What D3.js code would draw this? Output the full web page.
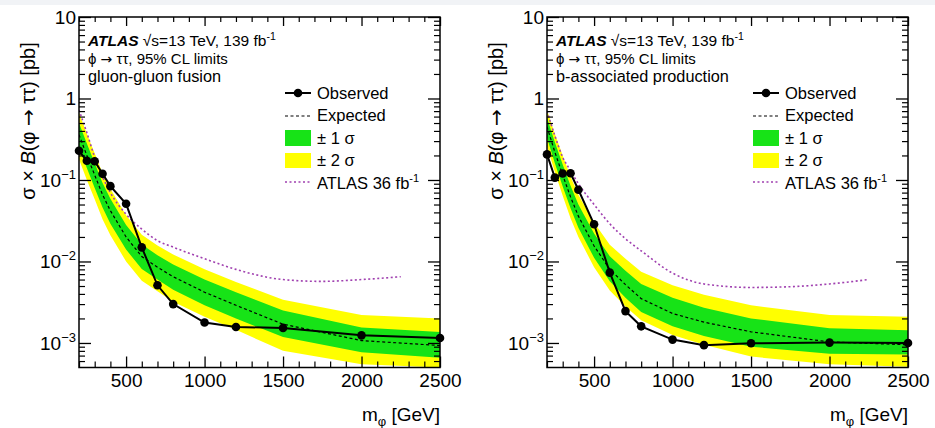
<!DOCTYPE html>
<html><head><meta charset="utf-8">
<script src="https://cdn.jsdelivr.net/npm/d3@7"></script>
<style>
body{margin:0;background:#fff}
svg{display:block}
text{font-family:"Liberation Sans",Arial,Helvetica,sans-serif;fill:#000}
.arr{font-family:"DejaVu Sans",sans-serif}
</style>
</head><body>
<svg id="c" width="935" height="428"></svg>
<script>
// ---------------- data ----------------
const mass = [200,250,300,350,400,500,600,700,800,1000,1200,1500,2000,2500];
const mass36 = [200,250,300,350,400,500,600,700,800,1000,1200,1500,1750,2000,2250];

// gluon-gluon fusion
const ggfObserved = [0.228,0.172,0.170,0.119,0.084,0.051,0.0149,0.0051,0.0030,0.00178,0.00157,0.00153,0.00124,0.00115];
const ggfExpected = [0.36,0.20,0.115,0.066,0.042,0.020,0.0115,0.0085,0.0065,0.0042,0.0029,0.0017,0.00107,0.00093];
const ggfPlus2    = [0.67,0.37,0.213,0.122,0.078,0.037,0.0213,0.0157,0.0122,0.0080,0.0056,0.0034,0.0022,0.0020];
const ggfPlus1    = [0.50,0.28,0.161,0.092,0.059,0.028,0.0161,0.0119,0.0092,0.0060,0.0042,0.0025,0.00155,0.00136];
const ggfMinus1   = [0.25,0.14,0.080,0.046,0.029,0.014,0.0081,0.0060,0.0045,0.0029,0.0020,0.00118,0.00077,0.00066];
const ggfMinus2   = [0.18,0.10,0.058,0.033,0.021,0.010,0.0058,0.0043,0.0032,0.0021,0.00145,0.00080,0.00055,0.00050];
const ggf36       = [0.72,0.38,0.19,0.11,0.070,0.038,0.025,0.018,0.0150,0.0108,0.0080,0.0060,0.0057,0.0060,0.0065];

// b-associated production
const bbhObserved = [0.206,0.107,0.120,0.121,0.076,0.0286,0.0073,0.00246,0.0016,0.0011,0.00094,0.00099,0.00101,0.00100];
const bbhExpected = [0.45,0.22,0.115,0.062,0.036,0.0155,0.0080,0.0052,0.0035,0.0023,0.0018,0.00137,0.00103,0.00095];
const bbhPlus2    = [0.72,0.37,0.20,0.110,0.066,0.030,0.0160,0.0108,0.0075,0.0051,0.0039,0.0029,0.0022,0.0021];
const bbhPlus1    = [0.58,0.29,0.155,0.085,0.050,0.0220,0.0116,0.0077,0.0053,0.0036,0.0027,0.0020,0.00152,0.00143];
const bbhMinus1   = [0.33,0.16,0.083,0.045,0.026,0.0111,0.0057,0.0036,0.0024,0.0016,0.00122,0.00090,0.00074,0.00072];
const bbhMinus2   = [0.26,0.125,0.064,0.034,0.020,0.0085,0.0044,0.0028,0.0019,0.00125,0.00095,0.00068,0.00055,0.00051];
const bbh36       = [0.70,0.35,0.19,0.13,0.090,0.050,0.029,0.019,0.0135,0.0072,0.0053,0.0048,0.0049,0.0053,0.0060];

const xMajor = [500,1000,1500,2000,2500];
const xMinor = d3.range(200,2501,100).filter(v => v % 500 !== 0);
const yMajor = [1e-3,1e-2,1e-1,1,10];
const yExponents = [-3,-2,-1,0,1];
const yMinor = [6e-4,7e-4,8e-4,9e-4].concat(...[-3,-2,-1,0].map(e => d3.range(2,10).map(k => k*Math.pow(10,e))));
const legendLabels = ["Observed","Expected","± 1 σ","± 2 σ","ATLAS 36 fb"];
const processLabels = ["gluon-gluon fusion","b-associated production"];

// ---------------- drawing ----------------
const svg = d3.select("#c");
svg.append("rect").attr("x",0).attr("y",0).attr("width",935).attr("height",5).attr("fill","#f1f3f6");

const GREEN = "#17e317", YELLOW = "#ffff00", PINK = "#a040b0";
const Y0 = 367.5, Y1 = 17;

function drawPanel(p) {
  const g = svg.append("g");
  const x = d3.scaleLinear().domain([200,2500]).range([p.x0,p.x1]);
  const y = d3.scaleLog().domain([5e-4,10]).range([Y0,Y1]);
  const idx = d3.range(mass.length);
  const clipId = "clip" + p.id;
  g.append("clipPath").attr("id",clipId).append("rect")
    .attr("x",p.x0).attr("y",Y1).attr("width",p.x1-p.x0).attr("height",Y0-Y1);
  const pg = g.append("g").attr("clip-path",`url(#${clipId})`);

  pg.append("path").attr("fill",YELLOW)
    .attr("d", d3.area().x(i=>x(mass[i])).y0(i=>y(p.m2[i])).y1(i=>y(p.p2[i]))(idx));
  pg.append("path").attr("fill",GREEN)
    .attr("d", d3.area().x(i=>x(mass[i])).y0(i=>y(p.m1[i])).y1(i=>y(p.p1[i]))(idx));
  pg.append("path").attr("fill","none").attr("stroke","#000").attr("stroke-width",1.2)
    .attr("stroke-dasharray","3,2.5")
    .attr("d", d3.line().x(i=>x(mass[i])).y(i=>y(p.exp[i]))(idx));
  pg.append("path").attr("fill","none").attr("stroke",PINK).attr("stroke-width",1.6)
    .attr("stroke-dasharray","2,2.5")
    .attr("d", d3.line().curve(d3.curveMonotoneX).x(i=>x(mass36[i])).y(i=>y(p.old[i]))(d3.range(mass36.length)));
  pg.append("path").attr("fill","none").attr("stroke","#000").attr("stroke-width",2)
    .attr("d", d3.line().x(i=>x(mass[i])).y(i=>y(p.obs[i]))(idx));
  g.selectAll(null).data(idx).join("circle")
    .attr("cx",i=>x(mass[i])).attr("cy",i=>y(p.obs[i])).attr("r",4.3).attr("fill","#000");

  // axes
  const strip = s => s.select(".domain").remove();
  const axB = g.append("g").attr("transform",`translate(0,${Y0})`)
    .call(d3.axisBottom(x).tickValues(xMajor).tickFormat(d3.format("d")).tickSizeInner(-11).tickSizeOuter(0).tickPadding(6));
  strip(axB);
  axB.selectAll("text").attr("font-size",19).attr("font-family","Liberation Sans, Arial, sans-serif");
  axB.selectAll("line").attr("stroke-width",1.3);
  const axBm = g.append("g").attr("transform",`translate(0,${Y0})`)
    .call(d3.axisBottom(x).tickValues(xMinor).tickSize(-6).tickFormat(""));
  strip(axBm); axBm.selectAll("line").attr("stroke-width",1.2);
  const axT = g.append("g").attr("transform",`translate(0,${Y1})`)
    .call(d3.axisTop(x).tickValues(xMajor).tickSize(-9).tickFormat(""));
  strip(axT); axT.selectAll("line").attr("stroke-width",1.3);
  const axTm = g.append("g").attr("transform",`translate(0,${Y1})`)
    .call(d3.axisTop(x).tickValues(xMinor).tickSize(-5).tickFormat(""));
  strip(axTm); axTm.selectAll("line").attr("stroke-width",1.2);

  const axL = g.append("g").attr("transform",`translate(${p.x0},0)`)
    .call(d3.axisLeft(y).tickValues(yMajor).tickSize(-12).tickFormat(""));
  strip(axL); axL.selectAll("line").attr("stroke-width",1.3);
  const axLm = g.append("g").attr("transform",`translate(${p.x0},0)`)
    .call(d3.axisLeft(y).tickValues(yMinor).tickSize(-6).tickFormat(""));
  strip(axLm); axLm.selectAll("line").attr("stroke-width",1.2);
  const axR = g.append("g").attr("transform",`translate(${p.x1},0)`)
    .call(d3.axisRight(y).tickValues(yMajor).tickSize(-12).tickFormat(""));
  strip(axR); axR.selectAll("line").attr("stroke-width",1.3);
  const axRm = g.append("g").attr("transform",`translate(${p.x1},0)`)
    .call(d3.axisRight(y).tickValues(yMinor).tickSize(-6).tickFormat(""));
  strip(axRm); axRm.selectAll("line").attr("stroke-width",1.2);

  // y tick labels
  yMajor.forEach((v,k) => {
    const e = yExponents[k];
    const t = g.append("text").attr("x",p.x0-3).attr("y",y(v)+7).attr("text-anchor","end").attr("font-size",19);
    if (e === 0) t.text("1");
    else if (e === 1) t.text("10");
    else { t.append("tspan").text("10"); t.append("tspan").attr("dy",-8).attr("font-size",13).text("−" + (-e)); }
  });

  // frame
  g.append("rect").attr("x",p.x0).attr("y",Y1).attr("width",p.x1-p.x0).attr("height",Y0-Y1)
    .attr("fill","none").attr("stroke","#000").attr("stroke-width",1.5);

  // axis titles
  const yt = g.append("text").attr("transform",`translate(${p.x0-44},121) rotate(-90)`)
    .attr("text-anchor","middle").attr("font-size",20);
  yt.append("tspan").text("σ × ");
  yt.append("tspan").attr("font-style","italic").text("B");
  yt.append("tspan").text("(φ ");
  yt.append("tspan").attr("class","arr").text("→");
  yt.append("tspan").text(" ττ) [pb]");
  const xt = g.append("text").attr("x",p.x1).attr("y",421).attr("text-anchor","end").attr("font-size",19);
  xt.append("tspan").text("m");
  xt.append("tspan").attr("dy",5).attr("font-size",13).text("φ");
  xt.append("tspan").attr("dy",-5).text(" [GeV]");

  // ATLAS label
  const a = g.append("text").attr("x",p.x0+9).attr("y",46).attr("font-size",15.5);
  a.append("tspan").attr("font-weight","bold").attr("font-style","italic").text("ATLAS");
  a.append("tspan").text("  √s=13 TeV, 139 fb");
  a.append("tspan").attr("dy",-6).attr("font-size",10.5).text("-1");
  const l2 = g.append("text").attr("x",p.x0+9).attr("y",64).attr("font-size",15);
  l2.append("tspan").text("ϕ ");
  l2.append("tspan").attr("class","arr").attr("font-size",14).text("→");
  l2.append("tspan").text(" ττ, 95% CL limits");
  g.append("text").attr("x",p.x0+9).attr("y",82).attr("font-size",16.3).text(p.process);

  // legend
  const lx = p.x0 + 206, tx = lx + 32;
  g.append("line").attr("x1",lx).attr("x2",lx+26).attr("y1",93).attr("y2",93).attr("stroke","#000").attr("stroke-width",2);
  g.append("circle").attr("cx",lx+13).attr("cy",93).attr("r",4.3).attr("fill","#000");
  g.append("line").attr("x1",lx).attr("x2",lx+26).attr("y1",116).attr("y2",116).attr("stroke","#000").attr("stroke-width",1.2).attr("stroke-dasharray","3,2.5");
  g.append("rect").attr("x",lx).attr("y",130).attr("width",26).attr("height",16).attr("fill",GREEN);
  g.append("rect").attr("x",lx).attr("y",153).attr("width",26).attr("height",15).attr("fill",YELLOW);
  g.append("line").attr("x1",lx).attr("x2",lx+26).attr("y1",182).attr("y2",182).attr("stroke",PINK).attr("stroke-width",1.6).attr("stroke-dasharray","2,2.5");
  const ly = [99,121,144,166,189];
  legendLabels.forEach((s,k) => {
    const t = g.append("text").attr("x",tx).attr("y",ly[k]).attr("font-size",16.5);
    t.append("tspan").text(s);
    if (k === 4) t.append("tspan").attr("dy",-7).attr("font-size",11).text("-1");
  });
}

drawPanel({id:1, x0:79, x1:440, obs:ggfObserved, exp:ggfExpected, p2:ggfPlus2, p1:ggfPlus1, m1:ggfMinus1, m2:ggfMinus2, old:ggf36, process:processLabels[0]});
drawPanel({id:2, x0:547, x1:908, obs:bbhObserved, exp:bbhExpected, p2:bbhPlus2, p1:bbhPlus1, m1:bbhMinus1, m2:bbhMinus2, old:bbh36, process:processLabels[1]});
</script>
</body></html>
